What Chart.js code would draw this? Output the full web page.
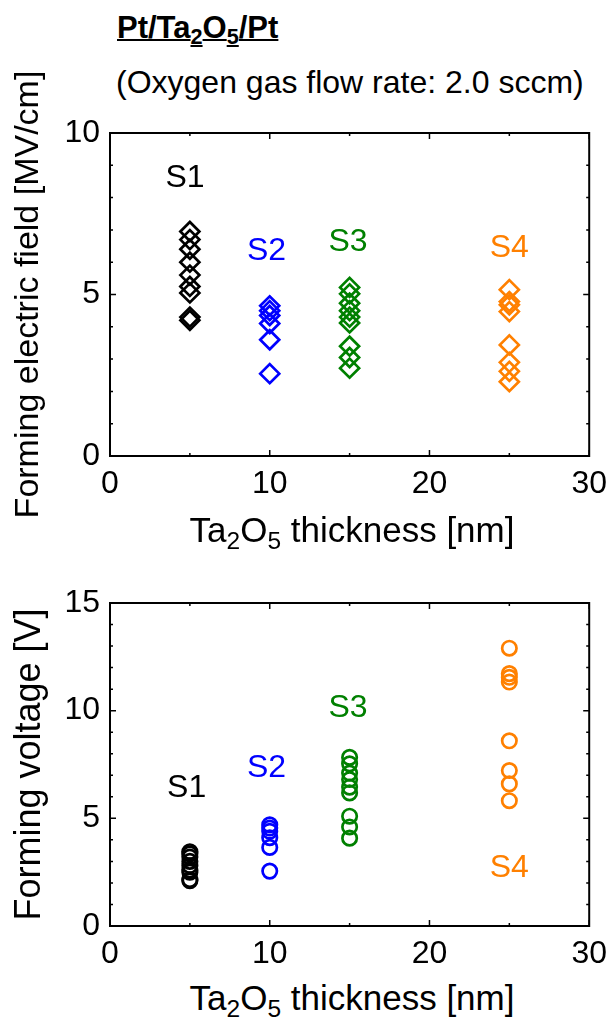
<!DOCTYPE html>
<html>
<head>
<meta charset="utf-8">
<script src="https://cdn.jsdelivr.net/npm/chart.js@4.4.1/dist/chart.umd.min.js"></script>
<style>
  body { margin: 0; width: 616px; height: 1025px; background: #fff; position: relative; overflow: hidden;
         font-family: "Liberation Sans", Arial, sans-serif; color: #000; }
  .txt { position: absolute; white-space: nowrap; }
  .txt sub { font-size: 0.7em; vertical-align: -0.28em; line-height: 0; }
  #title { left: 117px; top: 12px; font-size: 31px; line-height: 31px; font-weight: bold; }
  #title span, #title sub { text-decoration: underline; text-decoration-thickness: 2px; }
  #subtitle { left: 116px; top: 66px; font-size: 32px; line-height: 32px; }
  .xtitle { left: 352px; transform: translateX(-50%); font-size: 35px; line-height: 35px; }
  canvas { position: absolute; left: 0; }
</style>
</head>
<body>
<div id="title" class="txt"><span>Pt/Ta</span><sub>2</sub><span>O</span><sub>5</sub><span>/Pt</span></div>
<div id="subtitle" class="txt">(Oxygen gas flow rate: 2.0 sccm)</div>

<canvas id="fieldChart" width="616" height="500" style="top:50px"></canvas>
<div class="txt xtitle" style="top:512px">Ta<sub>2</sub>O<sub>5</sub> thickness [nm]</div>

<canvas id="voltChart" width="616" height="400" style="top:570px"></canvas>
<div class="txt xtitle" style="top:980px">Ta<sub>2</sub>O<sub>5</sub> thickness [nm]</div>

<script>
// --- DATA ---
const sampleNames = ['S1', 'S2', 'S3', 'S4'];
const thickness = [5, 10, 15, 25];            // nm
const sampleColors = ['#000000', '#0000ff', '#008000', '#ff8000'];

// forming electric field [MV/cm]
const fieldS1 = [6.95, 6.7, 6.4, 6.0, 5.6, 5.25, 5.05, 4.3, 4.2];
const fieldS2 = [4.65, 4.5, 4.35, 4.1, 3.6, 2.55];
const fieldS3 = [5.22, 5.02, 4.73, 4.5, 4.3, 4.12, 3.4, 3.05, 2.72];
const fieldS4 = [5.15, 4.78, 4.68, 4.47, 3.44, 2.9, 2.62, 2.3];

// forming voltage [V]
const voltS1 = [3.45, 3.35, 3.2, 3.0, 2.8, 2.6, 2.5, 2.15, 2.1];
const voltS2 = [4.7, 4.55, 4.4, 4.1, 3.65, 2.55];
const voltS3 = [7.83, 7.53, 7.1, 6.8, 6.45, 6.18, 5.1, 4.6, 4.08];
const voltS4 = [12.9, 11.72, 11.55, 11.33, 8.6, 7.22, 6.6, 5.82];

// axis ranges / ticks
const xMax = 30, xMajor = 10, xMinor = 5;
const fieldMax = 10, voltMax = 15, yMajor = 5, yMinor = 1;

// where the sample names sit (data units)
const fieldLabelX = [4.7, 9.8, 14.9, 25];
const fieldLabelY = [8.6, 6.35, 6.63, 6.44];
const voltLabelX = [4.8, 9.8, 14.9, 25];
const voltLabelY = [6.38, 7.31, 10.1, 2.7];

Chart.defaults.font.family = "'Liberation Sans', Arial, sans-serif";
Chart.defaults.color = '#000';

// box frame + inward ticks on all four sides + sample names
const frameTicks = {
  id: 'frameTicks',
  afterDatasetsDraw(chart, args, opts) {
    const { ctx, chartArea: a, scales: { x, y } } = chart;
    ctx.save();
    ctx.strokeStyle = '#000';
    ctx.lineWidth = 1.5;
    ctx.beginPath();
    for (let v = x.min; v <= x.max; v += xMinor) {
      const px = x.getPixelForValue(v);
      const len = v % xMajor === 0 ? 6 : 3;
      ctx.moveTo(px, a.bottom); ctx.lineTo(px, a.bottom - len);
      ctx.moveTo(px, a.top); ctx.lineTo(px, a.top + len);
    }
    for (let v = y.min; v <= y.max; v += yMinor) {
      const py = y.getPixelForValue(v);
      const len = v % yMajor === 0 ? 6 : 3;
      ctx.moveTo(a.left, py); ctx.lineTo(a.left + len, py);
      ctx.moveTo(a.right, py); ctx.lineTo(a.right - len, py);
    }
    ctx.stroke();
    ctx.lineWidth = 2;
    ctx.strokeRect(a.left, a.top, a.right - a.left, a.bottom - a.top);

    ctx.font = "32px 'Liberation Sans', Arial, sans-serif";
    ctx.textAlign = 'center';
    ctx.textBaseline = 'middle';
    sampleNames.forEach((name, i) => {
      ctx.fillStyle = sampleColors[i];
      ctx.fillText(name, x.getPixelForValue(opts.labelX[i]), y.getPixelForValue(opts.labelY[i]));
    });
    ctx.restore();
  }
};

function makeChart(canvasId, series, yMax, yTitle, titleSize, pad, pointStyle, radius, labelX, labelY) {
  const datasets = series.map((vals, i) => ({
    label: sampleNames[i],
    data: vals.map(v => ({ x: thickness[i], y: v })),
    pointStyle: pointStyle,
    radius: radius,
    borderWidth: 2.7,
    borderColor: sampleColors[i],
    backgroundColor: 'rgba(0,0,0,0)'
  }));

  return new Chart(document.getElementById(canvasId), {
    type: 'scatter',
    data: { datasets },
    options: {
      responsive: false,
      animation: false,
      devicePixelRatio: 1,
      layout: { padding: { top: pad[0], right: 23, left: 0, bottom: pad[1] } },
      plugins: {
        legend: { display: false },
        tooltip: { enabled: false },
        frameTicks: { labelX, labelY }
      },
      scales: {
        x: {
          type: 'linear', min: 0, max: xMax,
          ticks: { stepSize: xMajor, font: { size: 32 }, padding: 9, maxRotation: 0, autoSkip: false },
          grid: { display: false, drawTicks: false },
          border: { display: false },
          afterFit(s) { s.height = 44; }
        },
        y: {
          min: 0, max: yMax,
          ticks: { stepSize: yMajor, font: { size: 32 }, padding: 10 },
          grid: { display: false, drawTicks: false },
          border: { display: false },
          title: { display: true, text: yTitle, font: { size: titleSize }, padding: { top: 8, bottom: 0 } },
          afterFit(s) { s.width = 110; }
        }
      }
    },
    plugins: [frameTicks]
  });
}

const fieldChart = makeChart('fieldChart', [fieldS1, fieldS2, fieldS3, fieldS4], fieldMax,
  'Forming electric field [MV/cm]', 34, [83, 50], 'rectRot', 9.5, fieldLabelX, fieldLabelY);
const voltChart = makeChart('voltChart', [voltS1, voltS2, voltS3, voltS4], voltMax,
  'Forming voltage [V]', 36, [33, 0], 'circle', 7.2, voltLabelX, voltLabelY);
</script>
</body>
</html>
